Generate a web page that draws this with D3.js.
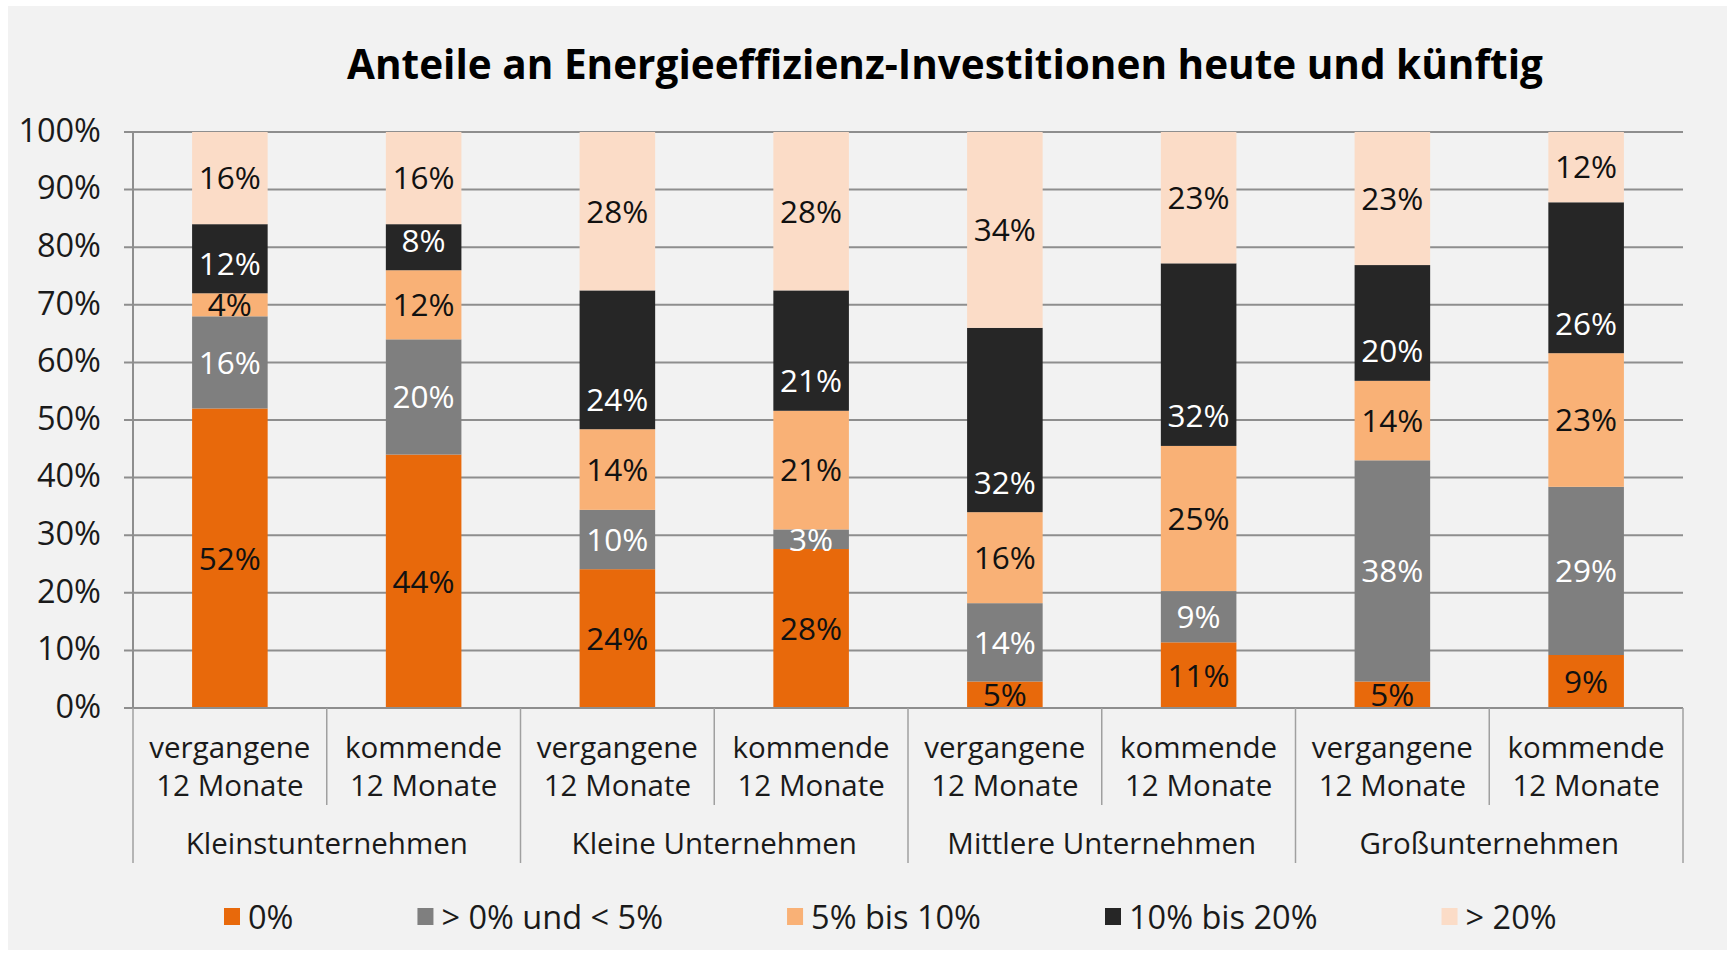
<!DOCTYPE html>
<html><head><meta charset="utf-8">
<script src="https://cdn.jsdelivr.net/npm/d3@7"></script>
<style>html,body{margin:0;padding:0;background:#fff;}svg{display:block;}text{font-family:"Open Sans",sans-serif;}</style>
</head><body><svg id="c" width="1727" height="953"></svg>
<script>
const title = "Anteile an Energieeffizienz-Investitionen heute und künftig";
const periods = ["vergangene|12 Monate","kommende|12 Monate","vergangene|12 Monate","kommende|12 Monate","vergangene|12 Monate","kommende|12 Monate","vergangene|12 Monate","kommende|12 Monate"];
const groups = ["Kleinstunternehmen","Kleine Unternehmen","Mittlere Unternehmen","Großunternehmen"];
const seriesNames = ["0%","> 0% und < 5%","5% bis 10%","10% bis 20%","> 20%"];
const colors = ["#E8690B","#7F7F7F","#F9B176","#262626","#FBDCC7"];
const labelColors = ["#111","#fff","#111","#fff","#111"];
const s0 = [52, 44, 24.1, 27.6, 4.6, 11.4, 4.6, 9.2];
const s1 = [16, 20, 10.3, 3.4, 13.6, 8.9, 38.4, 29.2];
const s2 = [4, 12, 14.0, 20.6, 15.8, 25.2, 13.8, 23.2];
const s3 = [12, 8, 24.1, 20.9, 32.0, 31.7, 20.1, 26.2];
const s4 = [16, 16, 27.5, 27.5, 34.0, 22.8, 23.1, 12.2];
const yTicks = [0,10,20,30,40,50,60,70,80,90,100];

const series = [s0,s1,s2,s3,s4];
const svg = d3.select("#c");
svg.append("rect").attr("x",8).attr("y",6).attr("width",1727-8).attr("height",953-9).attr("fill","#F2F2F2");

const L=133, R=1683, T=132, B=708;
const x = d3.scaleBand().domain(d3.range(8)).range([L,R]).paddingInner(0.61).paddingOuter(0.305);
const y = d3.scaleLinear().domain([0,100]).range([B,T]);

svg.append("text").attr("x",945).attr("y",79).attr("text-anchor","middle")
  .attr("font-size",40.5).attr("font-weight",700).attr("fill","#000").text(title);

// grid
const gridColor="#8E8E8E";
svg.append("g").selectAll("line").data(yTicks).join("line")
  .attr("x1",L-9).attr("x2",R).attr("y1",d=>y(d)).attr("y2",d=>y(d))
  .attr("stroke",gridColor).attr("stroke-width",2);
svg.append("g").selectAll("text").data(yTicks).join("text")
  .attr("x",101).attr("y",d=>y(d)-2).attr("dy","0.36em").attr("text-anchor","end")
  .attr("font-size",32.5).attr("fill","#1a1a1a").text(d=>d+"%");
svg.append("line").attr("x1",L).attr("x2",L).attr("y1",T).attr("y2",B).attr("stroke",gridColor).attr("stroke-width",2);

// stacks
const rows = d3.range(8).map(i=>{const o={i}; series.forEach((s,k)=>o["k"+k]=s[i]); return o;});
const stack = d3.stack().keys(series.map((s,k)=>"k"+k))(rows);
const gBars = svg.append("g");
stack.forEach((layer,k)=>{
  gBars.append("g").selectAll("rect").data(layer).join("rect")
    .attr("x",d=>x(d.data.i)).attr("width",x.bandwidth())
    .attr("y",d=>y(d[1])).attr("height",d=>y(d[0])-y(d[1]))
    .attr("fill",colors[k]);
});
// the dark series' labels sit near the base of their segment (inside base), others centered
stack.forEach((layer,k)=>{
  gBars.append("g").selectAll("text").data(layer).join("text")
    .attr("x",d=>x(d.data.i)+x.bandwidth()/2)
    .attr("y",d=>k===3 ? y(d[0])-30 : y((d[0]+d[1])/2))
    .attr("dy","0.36em")
    .attr("text-anchor","middle").attr("font-size",31.5).attr("fill",labelColors[k])
    .text(d=>Math.round(d[1]-d[0])+"%");
});
// axis baseline
svg.append("line").attr("x1",L-9).attr("x2",R).attr("y1",B).attr("y2",B).attr("stroke",gridColor).attr("stroke-width",2);

// category axis
const step = x.step();
const sep = d3.range(9);
svg.append("g").selectAll("line").data(sep).join("line")
  .attr("x1",k=>L+k*step).attr("x2",k=>L+k*step).attr("y1",B)
  .attr("y2",k=>k%2===0?863:805).attr("stroke","#A0A0A0").attr("stroke-width",1.5);
const pg = svg.append("g");
periods.forEach((p,i)=>{
  const lines=p.split("|");
  lines.forEach((t,j)=>{
    pg.append("text").attr("x",L+(i+0.5)*step).attr("y",747.5+j*37.5).attr("dy","0.36em")
      .attr("text-anchor","middle").attr("font-size",29.5).attr("fill","#1a1a1a").text(t);
  });
});
svg.append("g").selectAll("text").data(groups).join("text")
  .attr("x",(d,i)=>L+(i*2+1)*step).attr("y",843).attr("dy","0.36em")
  .attr("text-anchor","middle").attr("font-size",29.5).attr("fill","#1a1a1a").text(d=>d);

// legend
const lg = svg.append("g");
let lx = 224;
seriesNames.forEach((n,k)=>{
  lg.append("rect").attr("x",lx).attr("y",908).attr("width",16).attr("height",17).attr("fill",colors[k]);
  const t = lg.append("text").attr("x",lx+24).attr("y",917).attr("dy","0.36em").attr("font-size",32.5).attr("fill","#1a1a1a").text(n);
  lx += 24 + t.node().getComputedTextLength() + 124;
});
</script></body></html>
